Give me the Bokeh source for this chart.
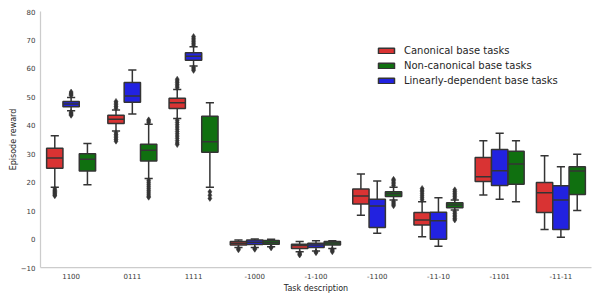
from bokeh.plotting import figure
from bokeh.models import ColumnDataSource, FixedTicker, Legend, LegendItem, Range1d
from bokeh.transform import dodge
from bokeh.embed import file_html
from bokeh.resources import INLINE

tasks = ["1100", "0111", "1111", "-1000", "-1-100", "-1100", "-11-10", "-1101", "-11-11"]
series_names = ["Canonical base tasks", "Non-canonical base tasks", "Linearly-dependent base tasks"]

# Canonical base tasks (red)
can_wlo = [18.2, 38.0, 42.4, -3.0, -4.5, 8.4, 0.8, 15.5, 3.4]
can_q1 = [24.9, 40.6, 45.9, -2.1, -3.3, 12.3, 4.9, 20.2, 9.3]
can_med = [28.5, 42.1, 47.9, -1.5, -2.3, 15.1, 6.7, 21.9, 16.3]
can_q3 = [31.9, 43.5, 49.5, -0.9, -1.8, 17.6, 9.3, 28.7, 19.9]
can_whi = [36.3, 45.4, 52.6, -0.35, -0.9, 22.9, 13.1, 34.6, 29.3]
can_out = [
    [17.6, 17.1, 16.7, 16.3, 15.9, 15.5, 15.2],
    [46.0, 46.6, 47.2, 47.8, 48.4, 37.4, 36.8, 36.2, 35.6, 35.0, 34.4],
    [53.2, 53.8, 54.4, 55.0, 55.6, 56.2, 41.8, 41.0, 40.2, 39.4, 38.6, 37.8,
     37.0, 36.2, 35.4, 34.6, 33.8, 33.2],
    [-3.4, -3.8],
    [-4.9, -5.3, -5.6],
    [],
    [13.8, 14.5, 15.2, 15.9, 16.6, 17.2, 17.8],
    [],
    [],
]

# Non-canonical base tasks (green)
non_wlo = [19.1, 21.3, 18.2, -2.7, -3.3, 13.7, 10.2, 13.1, 10.0]
non_q1 = [23.9, 27.4, 30.5, -1.8, -2.1, 15.0, 11.0, 19.3, 15.7]
non_med = [28.1, 31.2, 34.2, -1.2, -1.4, 15.9, 12.0, 26.4, 23.9]
non_q3 = [30.0, 33.3, 43.2, -0.5, -0.9, 16.6, 12.8, 30.9, 25.4]
non_whi = [33.6, 40.4, 47.9, -0.1, -0.6, 18.2, 13.7, 34.6, 29.8]
non_out = [
    [],
    [41.0, 41.5, 41.9, 20.7, 20.0, 19.3, 18.6, 17.9, 17.2, 16.5, 15.8, 15.1, 14.7],
    [16.6, 15.4, 14.3],
    [-2.9, -3.1],
    [-3.7, -4.1, -4.5],
    [18.8, 19.4, 20.0, 20.6, 21.0, 13.2, 12.7, 12.2, 11.7],
    [14.3, 14.9, 15.5, 16.1, 16.7, 17.3, 9.6, 9.0, 8.4, 7.8, 7.2, 6.7],
    [],
    [],
]

# Linearly-dependent base tasks (blue)
lin_wlo = [45.1, 44.0, 60.8, -3.0, -4.2, 2.0, -2.5, 14.0, 0.6]
lin_q1 = [46.5, 48.1, 62.9, -1.9, -3.0, 4.1, -0.1, 18.8, 3.4]
lin_med = [47.5, 50.3, 64.3, -1.1, -2.1, 11.6, 6.4, 24.0, 13.7]
lin_q3 = [48.4, 55.0, 65.5, -0.35, -1.5, 14.0, 9.4, 31.5, 18.7]
lin_whi = [49.8, 59.4, 67.6, 0.0, -0.6, 20.4, 14.5, 37.2, 25.4]
lin_out = [
    [50.5, 50.9, 51.3, 51.7, 44.6, 44.2, 43.8, 43.5],
    [],
    [68.2, 68.8, 69.4, 70.0, 70.6, 71.2, 60.3, 59.8, 59.3],
    [-3.3, -3.6],
    [-4.5, -4.8],
    [],
    [],
    [],
    [],
]

y_ticks = [-10, 0, 10, 20, 30, 40, 50, 60, 70, 80]

colors = {"can": "#d93333", "non": "#107010", "lin": "#2222e0"}
edge = "#343434"
box_w = 0.8 / 3
offsets = {"can": -box_w, "lin": 0.0, "non": box_w}

p = figure(
    x_range=tasks, y_range=Range1d(-10, 80),
    width=600, height=300,
    output_backend="svg", toolbar_location=None,
    min_border_left=40, min_border_right=9, min_border_top=11, min_border_bottom=33,
)
p.outline_line_color = None
p.xgrid.visible = False
p.ygrid.visible = False
p.x_range.range_padding = 0

series = {
    "can": (can_wlo, can_q1, can_med, can_q3, can_whi, can_out),
    "non": (non_wlo, non_q1, non_med, non_q3, non_whi, non_out),
    "lin": (lin_wlo, lin_q1, lin_med, lin_q3, lin_whi, lin_out),
}

renderers = {}
for key, (wlo, q1, med, q3, whi, outs) in series.items():
    off = offsets[key]
    src = ColumnDataSource(dict(task=tasks, wlo=wlo, q1=q1, med=med, q3=q3, whi=whi))
    # whiskers
    p.segment(x0=dodge("task", off, range=p.x_range), y0="q3",
              x1=dodge("task", off, range=p.x_range), y1="whi",
              source=src, line_color=edge, line_width=1.5)
    p.segment(x0=dodge("task", off, range=p.x_range), y0="q1",
              x1=dodge("task", off, range=p.x_range), y1="wlo",
              source=src, line_color=edge, line_width=1.5)
    # caps
    for col in ("whi", "wlo"):
        p.segment(x0=dodge("task", off - box_w / 4, range=p.x_range), y0=col,
                  x1=dodge("task", off + box_w / 4, range=p.x_range), y1=col,
                  source=src, line_color=edge, line_width=1.5)
    # boxes
    r = p.vbar(x=dodge("task", off, range=p.x_range), width=box_w, bottom="q1", top="q3",
               source=src, fill_color=colors[key], line_color=edge, line_width=1.5)
    renderers[key] = r
    # medians
    p.segment(x0=dodge("task", off - box_w / 2, range=p.x_range), y0="med",
              x1=dodge("task", off + box_w / 2, range=p.x_range), y1="med",
              source=src, line_color=edge, line_width=1.5)
    # fliers
    ft, fv = [], []
    for t, vals in zip(tasks, outs):
        for v in vals:
            ft.append(t)
            fv.append(v)
    fsrc = ColumnDataSource(dict(task=ft, val=fv))
    p.scatter(x=dodge("task", off, range=p.x_range), y="val", source=fsrc,
              marker="diamond", size=6, fill_color=edge, line_color=edge, line_width=0.5)

legend = Legend(items=[
    LegendItem(label=series_names[0], renderers=[renderers["can"]]),
    LegendItem(label=series_names[1], renderers=[renderers["non"]]),
    LegendItem(label=series_names[2], renderers=[renderers["lin"]]),
], location=(336, 180))
legend.label_text_font = "DejaVu Sans"
legend.label_text_font_size = "10px"
legend.label_text_color = "#262626"
legend.glyph_width = 20
legend.glyph_height = 7
legend.label_height = 14
legend.spacing = 1
legend.label_standoff = 8
legend.padding = 0
legend.margin = 0
legend.border_line_alpha = 0
legend.background_fill_alpha = 0
p.add_layout(legend)

for ax in (p.xaxis[0], p.yaxis[0]):
    ax.axis_line_color = "#cccccc"
    ax.axis_line_width = 1.25
    ax.major_tick_line_color = None
    ax.minor_tick_line_color = None
    ax.major_tick_out = 0
    ax.major_tick_in = 0
    ax.minor_tick_out = 0
    ax.minor_tick_in = 0
    ax.major_label_text_font = "DejaVu Sans"
    ax.major_label_text_font_size = "7px"
    ax.major_label_text_color = "#3a3a3a"
    ax.axis_label_text_font = "DejaVu Sans"
    ax.axis_label_text_font_size = "8px"
    ax.axis_label_text_font_style = "normal"
    ax.axis_label_text_color = "#262626"
    ax.major_label_standoff = 5

p.yaxis.ticker = FixedTicker(ticks=y_ticks)
p.yaxis.major_label_overrides = {-10: "\u221210"}
p.yaxis.axis_label = "Episode reward"
p.yaxis.axis_label_standoff = 0
p.xaxis.axis_label = "Task description"
p.xaxis.axis_label_standoff = 2

open("out.html", "w").write(file_html(p, INLINE))
